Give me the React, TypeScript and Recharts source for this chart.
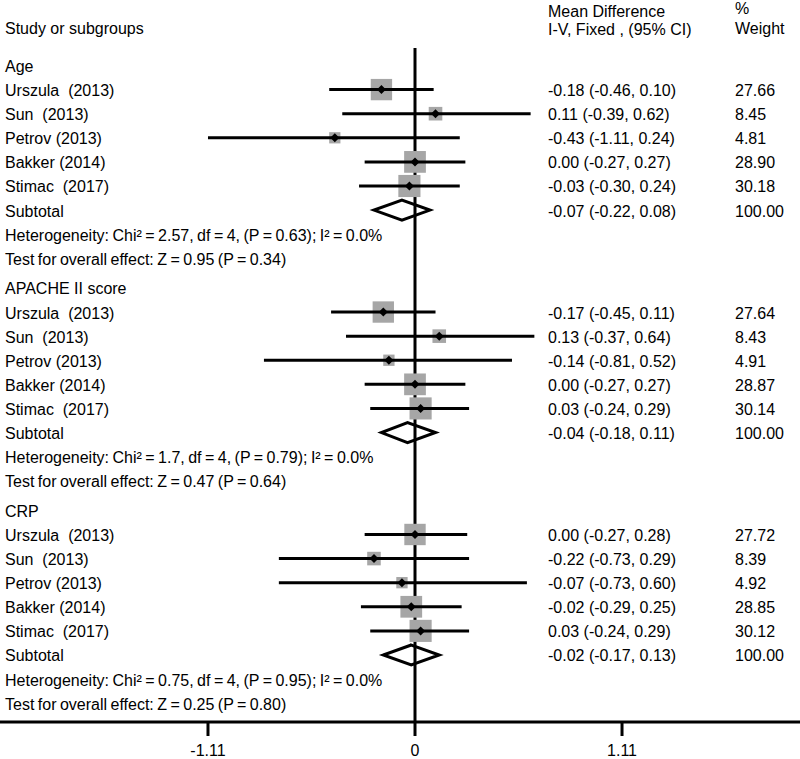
import React from 'react';
import { ScatterChart, Scatter, XAxis, YAxis, ReferenceLine, Customized } from 'recharts';

const FONT = '"Liberation Sans", Arial, Helvetica, sans-serif';

// ---------- data ----------
const subgroups = ['Age', 'APACHE II score', 'CRP'];
const studies = ['Urszula  (2013)', 'Sun  (2013)', 'Petrov (2013)', 'Bakker (2014)', 'Stimac  (2017)'];

const ageMd = [-0.18, 0.11, -0.43, 0.0, -0.03];
const ageLo = [-0.46, -0.39, -1.11, -0.27, -0.3];
const ageHi = [0.1, 0.62, 0.24, 0.27, 0.24];
const ageW = [27.66, 8.45, 4.81, 28.9, 30.18];

const apacheMd = [-0.17, 0.13, -0.14, 0.0, 0.03];
const apacheLo = [-0.45, -0.37, -0.81, -0.27, -0.24];
const apacheHi = [0.11, 0.64, 0.52, 0.27, 0.29];
const apacheW = [27.64, 8.43, 4.91, 28.87, 30.14];

const crpMd = [0.0, -0.22, -0.07, -0.02, 0.03];
const crpLo = [-0.27, -0.73, -0.73, -0.29, -0.24];
const crpHi = [0.28, 0.29, 0.6, 0.25, 0.29];
const crpW = [27.72, 8.39, 4.92, 28.85, 30.12];

const subMd = [-0.07, -0.04, -0.02];
const subLo = [-0.22, -0.18, -0.17];
const subHi = [0.08, 0.11, 0.13];
const subW = [100.0, 100.0, 100.0];

const hetChi = ['2.57', '1.7', '0.75'];
const hetP = ['0.63', '0.79', '0.95'];
const zVal = ['0.95', '0.47', '0.25'];
const zP = ['0.34', '0.64', '0.80'];

const xTicks = [-1.11, 0, 1.11];

// ---------- layout ----------
const W = 800;
const H = 759;
const X_DOMAIN: [number, number] = [-2.2252, 2.0643];
const Y_DOMAIN: [number, number] = [-0.726, 27.241];
const SECTION_STEP = 9.23;
const DIAMOND_HALF = 0.415;
const COL_LEFT = 5;
const COL_MD = 548;
const COL_WT = 735;

const groups = [
  { md: ageMd, lo: ageLo, hi: ageHi, w: ageW },
  { md: apacheMd, lo: apacheLo, hi: apacheHi, w: apacheW },
  { md: crpMd, lo: crpLo, hi: crpHi, w: crpW },
];

const f2 = (v: number) => v.toFixed(2);
const ciText = (m: number, l: number, h: number) => `${f2(m)} (${f2(l)}, ${f2(h)})`;
const pos = (s: number, k: number) => s * SECTION_STEP + k;

type StudyPt = { x: number; y: number; w: number };
const studyPts: StudyPt[] = [];
const ciSegments: { x: number; y: number }[][] = [];
type TextRow = { x: number; y: number; left: string; md?: string; wt?: string; tight?: boolean };
const textRows: TextRow[] = [];

groups.forEach((g, s) => {
  textRows.push({ x: 0, y: pos(s, 0), left: subgroups[s] });
  studies.forEach((name, i) => {
    const y = pos(s, i + 1);
    studyPts.push({ x: g.md[i], y, w: g.w[i] });
    ciSegments.push([
      { x: g.lo[i], y },
      { x: g.hi[i], y },
    ]);
    textRows.push({ x: 0, y, left: name, md: ciText(g.md[i], g.lo[i], g.hi[i]), wt: f2(g.w[i]) });
  });
  textRows.push({ x: 0, y: pos(s, 6), left: 'Subtotal', md: ciText(subMd[s], subLo[s], subHi[s]), wt: f2(subW[s]) });
  textRows.push({
    x: 0,
    y: pos(s, 7),
    left: `Heterogeneity: Chi\u00B2 = ${hetChi[s]}, df = 4, (P = ${hetP[s]}); I\u00B2 = 0.0%`,
    tight: true,
  });
  textRows.push({ x: 0, y: pos(s, 8), left: `Test for overall effect: Z = ${zVal[s]} (P = ${zP[s]})`, tight: true });
});

const diamonds = subMd.map((m, s) => {
  const y = pos(s, 6);
  return [
    { x: subLo[s], y },
    { x: m, y: y - DIAMOND_HALF },
    { x: subHi[s], y },
    { x: m, y: y + DIAMOND_HALF },
    { x: subLo[s], y },
    { x: m, y: y - DIAMOND_HALF },
  ];
});

const txtStyle: React.CSSProperties = { whiteSpace: 'pre' };

const SquareShape = (props: any) => {
  const { cx, cy, payload } = props;
  const size = 4 + 3.3 * Math.sqrt(payload.w);
  return <rect x={cx - size / 2} y={cy - size / 2} width={size} height={size} fill="#a6a6a6" />;
};

const DotShape = (props: any) => {
  const { cx, cy } = props;
  const r = 4.5;
  return <polygon points={`${cx - r},${cy} ${cx},${cy - r} ${cx + r},${cy} ${cx},${cy + r}`} fill="#000" />;
};

const TextShape = (props: any) => {
  const { cy, payload } = props;
  const base = cy + 6.5;
  return (
    <g>
      <text
        x={COL_LEFT}
        y={base}
        fontSize={16}
        fontFamily={FONT}
        fill="#000"
        style={{ ...txtStyle, wordSpacing: payload.tight ? '-1px' : undefined }}
      >
        {payload.left}
      </text>
      {payload.md && (
        <text x={COL_MD} y={base} fontSize={16} fontFamily={FONT} fill="#000" style={txtStyle}>
          {payload.md}
        </text>
      )}
      {payload.wt && (
        <text x={COL_WT} y={base} fontSize={16} fontFamily={FONT} fill="#000" style={txtStyle}>
          {payload.wt}
        </text>
      )}
    </g>
  );
};

const Headers = () => (
  <g fontFamily={FONT} fontSize={16} fill="#000">
    <text x={COL_LEFT} y={33.5}>Study or subgroups</text>
    <text x={COL_MD} y={16.5}>Mean Difference</text>
    <text x={COL_MD} y={35}>I-V, Fixed , (95% CI)</text>
    <text x={COL_WT} y={14}>%</text>
    <text x={COL_WT} y={33.5}>Weight</text>
  </g>
);

const NoShape = () => <g />;

export default function App() {
  return (
    <div style={{ position: 'absolute', left: 0, top: 0, width: W, height: H, background: '#fff' }}>
      <ScatterChart width={W} height={H} margin={{ top: 48, right: 0, bottom: 0, left: 0 }}>
        <XAxis
          type="number"
          dataKey="x"
          domain={X_DOMAIN}
          allowDataOverflow
          ticks={xTicks}
          interval={0}
          tickFormatter={(v: number) => (v === 0 ? '0' : v.toFixed(2))}
          height={37}
          axisLine={{ stroke: '#000', strokeWidth: 3 }}
          tickLine={{ stroke: '#000', strokeWidth: 3 }}
          tickSize={14}
          tickMargin={9}
          tick={{ fill: '#000', fontSize: 16, fontFamily: FONT }}
        />
        <XAxis
          xAxisId="top"
          orientation="top"
          type="number"
          dataKey="x"
          domain={X_DOMAIN}
          allowDataOverflow
          height={0}
          tick={false}
          tickLine={false}
          axisLine={{ stroke: '#000', strokeWidth: 3 }}
        />
        <YAxis hide type="number" dataKey="y" domain={Y_DOMAIN} reversed allowDataOverflow />
        <ReferenceLine x={0} stroke="#000" strokeWidth={3} ifOverflow="visible" />
        <Scatter data={studyPts} shape={SquareShape} isAnimationActive={false} />
        {ciSegments.map((seg, i) => (
          <Scatter
            key={`ci-${i}`}
            data={seg}
            shape={NoShape}
            line={{ stroke: '#000', strokeWidth: 3 }}
            lineJointType="linear"
            isAnimationActive={false}
          />
        ))}
        <Scatter data={studyPts} shape={DotShape} isAnimationActive={false} />
        {diamonds.map((d, i) => (
          <Scatter
            key={`dia-${i}`}
            data={d}
            shape={NoShape}
            line={{ stroke: '#000', strokeWidth: 3, strokeLinejoin: 'miter' }}
            lineJointType="linear"
            isAnimationActive={false}
          />
        ))}
        <Scatter data={textRows} shape={TextShape} isAnimationActive={false} />
        <Customized component={Headers} />
      </ScatterChart>
    </div>
  );
}
